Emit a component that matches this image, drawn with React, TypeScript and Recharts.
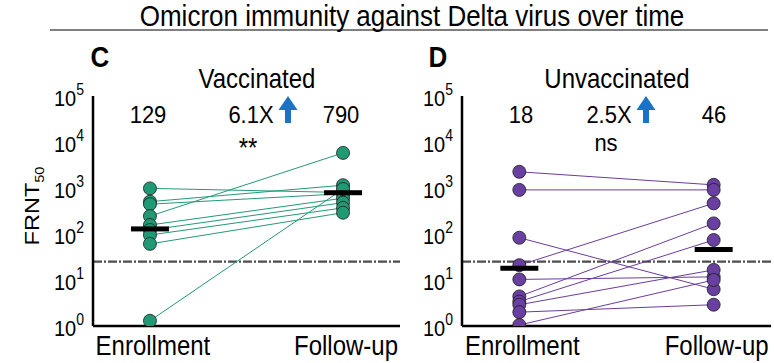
import React from 'react';
import { ComposedChart, XAxis, YAxis, Scatter, ReferenceLine } from 'recharts';

const timepoints = ['Enrollment', 'Follow-up'];
const yTicks = [1, 10, 100, 1000, 10000, 100000];
const threshold = 25;

const vacEnroll = [980, 505, 445, 245, 157, 122, 95, 61, 1.3];
const vacFollow = [800, 1150, 750, 5800, 600, 480, 370, 290, 950];
const vacGeoMean = [129, 790];

const unvacEnroll = [2250, 910, 83, 21, 10.3, 4.4, 3.4, 2.9, 2.0, 1.05];
const unvacFollow = [1170, 910, 6.3, 465, 11.7, 170, 74, 16.6, 2.9, 10];
const unvacGeoMean = [18, 46];

const panelTitles = ['Vaccinated', 'Unvaccinated'];
const panelLetters = ['C', 'D'];
const foldChanges = ['6.1X', '2.5X'];
const significance = ['**', 'ns'];

const FONT = '"Liberation Sans", Arial, sans-serif';
const SY = 1.12;

const T = (p: { x: number; y: number; size: number; anchor?: string; bold?: boolean; children: any }) => (
  <text
    transform={`translate(${p.x},${p.y}) scale(1,${SY})`}
    textAnchor={p.anchor || 'middle'}
    fontFamily={FONT}
    fontSize={p.size}
    fontWeight={p.bold ? 'bold' : 'normal'}
    fill="#000"
  >
    {p.children}
  </text>
);

const YTick = (props: any) => {
  const { x, y, payload } = props;
  const exp = Math.round(Math.log10(payload.value));
  return (
    <T x={x - 9} y={y + 10} size={20} anchor="end">
      <tspan>10</tspan>
      <tspan dy={-10} fontSize={14}>{exp}</tspan>
    </T>
  );
};

const XTick = (props: any) => {
  const { x, y, payload } = props;
  return (
    <T x={x + 3} y={y + 29} size={24}>
      {timepoints[payload.value]}
    </T>
  );
};

function Panel(props: {
  enroll: number[]; follow: number[]; gm: number[]; fill: string; line: string; width: number; right: number;
}) {
  const { enroll, follow, gm, fill, line, width, right } = props;
  const pairs = enroll.map((e, i) => [{ x: 0, y: e }, { x: 1, y: follow[i] }]);
  const dots = [...enroll.map((y) => ({ x: 0, y })), ...follow.map((y) => ({ x: 1, y }))];
  const gmData = gm.map((y, i) => ({ x: i, y }));
  return (
    <ComposedChart width={width} height={363} margin={{ top: 96, right, bottom: 7, left: 0 }}>
      <XAxis
        type="number" dataKey="x" domain={[-0.295, 1.295]} ticks={[0, 1]} allowDataOverflow
        tick={<XTick />} tickLine={false} tickSize={0} tickMargin={0} height={30}
        axisLine={{ stroke: '#000', strokeWidth: 2.5 }}
      />
      <YAxis
        type="number" dataKey="y" scale="log" domain={[1, 100000]} ticks={yTicks} allowDataOverflow
        width={93} tick={<YTick />} tickLine={false} tickSize={0} tickMargin={0}
        axisLine={{ stroke: '#000', strokeWidth: 2.5 }}
      />
      <ReferenceLine y={threshold} stroke="#4d4d4d" strokeWidth={2.2} strokeDasharray="9 2 2 2" />
      {pairs.map((p, i) => (
        <Scatter key={i} data={p} line={{ stroke: line, strokeWidth: 1 }} shape={() => <g />} isAnimationActive={false} />
      ))}
      <Scatter
        data={dots}
        isAnimationActive={false}
        shape={(s: any) => <circle cx={s.cx} cy={s.cy} r={6.5} fill={fill} stroke="#1a1a1a" strokeWidth={0.8} />}
      />
      <Scatter
        data={gmData}
        isAnimationActive={false}
        shape={(s: any) => <rect x={s.cx - 19} y={s.cy - 2.5} width={38} height={5} fill="#000" />}
      />
    </ComposedChart>
  );
}

const Arrow = ({ cx }: { cx: number }) => (
  <path
    d={`M${cx},96 L${cx + 9.5},110 L${cx + 3},110 L${cx + 3},123 L${cx - 3},123 L${cx - 3},110 L${cx - 9.5},110 Z`}
    fill="#1a73c6"
  />
);

export default function App() {
  return (
    <div style={{ position: 'absolute', left: 0, top: 0, width: 774, height: 363, background: '#fff', overflow: 'hidden' }}>
      <div style={{ position: 'absolute', left: 0, top: 0 }}>
        <Panel enroll={vacEnroll} follow={vacFollow} gm={vacGeoMean} fill="#1f9a74" line="#229a78" width={410} right={10} />
      </div>
      <div style={{ position: 'absolute', left: 369, top: 0 }}>
        <Panel enroll={unvacEnroll} follow={unvacFollow} gm={unvacGeoMean} fill="#6a3fa2" line="#6a3d9a" width={405} right={3} />
      </div>
      <svg width={774} height={363} style={{ position: 'absolute', left: 0, top: 0, pointerEvents: 'none' }} fontFamily={FONT}>
        <T x={412} y={26} size={26}>Omicron immunity against Delta virus over time</T>
        <line x1={50} x2={768} y1={30} y2={30} stroke="#000" strokeWidth={1.2} />
        <T x={100} y={67} size={26} bold>{panelLetters[0]}</T>
        <T x={438} y={67} size={26} bold>{panelLetters[1]}</T>
        <T x={257} y={88} size={24}>{panelTitles[0]}</T>
        <T x={617} y={88} size={24}>{panelTitles[1]}</T>

        <T x={148} y={123} size={22}>{vacGeoMean[0]}</T>
        <T x={251} y={123} size={22}>{foldChanges[0]}</T>
        <Arrow cx={288} />
        <T x={341} y={123} size={22}>{vacGeoMean[1]}</T>
        <T x={248} y={157} size={24}>{significance[0]}</T>

        <T x={521} y={123} size={22}>{unvacGeoMean[0]}</T>
        <T x={609} y={123} size={22}>{foldChanges[1]}</T>
        <Arrow cx={646} />
        <T x={714} y={123} size={22}>{unvacGeoMean[1]}</T>
        <T x={606} y={151} size={22}>{significance[1]}</T>

        <text transform="translate(39,206) rotate(-90) scale(1.12,1)" textAnchor="middle" fontSize={21} fill="#000">
          FRNT<tspan dy={5} fontSize={13}>50</tspan>
        </text>
      </svg>
    </div>
  );
}
